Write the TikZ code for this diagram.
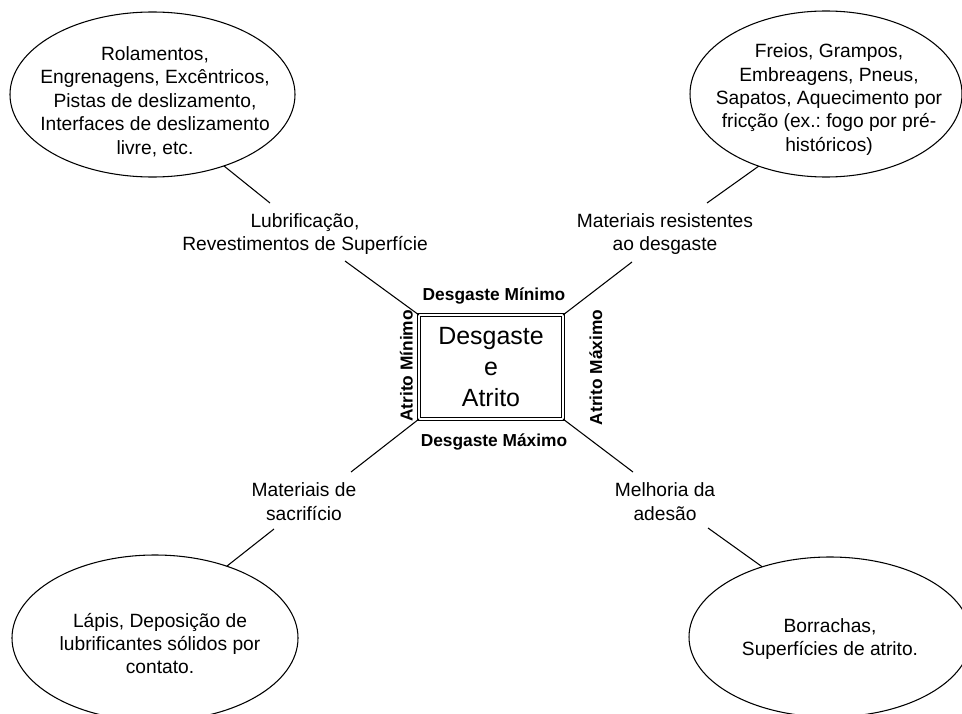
\documentclass[tikz,border=0pt]{standalone}
\usepackage{fontspec}
\setmainfont{Liberation Sans}
\usetikzlibrary{shapes.geometric}
\frenchspacing
\begin{document}
\begin{tikzpicture}[x=0.75pt,y=-0.75pt,
  every node/.style={inner sep=0pt, outer sep=0pt},
  bubble/.style={draw, line width=0.8pt, ellipse},
  bodytext/.style={align=center, font=\fontsize{14.4}{17.6}\selectfont},
  sidetext/.style={font=\fontsize{13}{15}\selectfont\bfseries, anchor=base},
  link/.style={line width=0.8pt},
  core/.style={draw, double, line width=0.9pt, double distance=1.3pt,
    align=center, font=\fontsize{18.7}{23}\selectfont}]
\useasboundingbox (0,0) rectangle (962,713);
\clip (0,0) rectangle (962,713);

% central box
\node[core, minimum width=144*0.75pt, minimum height=104*0.75pt] (core) at (491,367)
  {Desgaste\\e\\Atrito};

% labels around the box
\node[sidetext] (wmin) at (494,300) {Desgaste Mínimo};
\node[sidetext] (wmax) at (494,446) {Desgaste Máximo};
\node[sidetext, rotate=90] (fmin) at (412.5,366) {Atrito Mínimo};
\node[sidetext, rotate=90] (fmax) at (602,367.5) {Atrito Máximo};

% strategy labels
\node[bodytext] (lub) at (305,234) {Lubrificação,\\Revestimentos de Superfície};
\node[bodytext] (res) at (665,234) {Materiais resistentes\\ao desgaste};
\node[bodytext] (sac) at (304,501.5) {Materiais de\\sacrifício};
\node[bodytext] (ade) at (665,501.5) {Melhoria da\\adesão};

% application bubbles
\node[bubble, minimum width=285*0.75pt, minimum height=165*0.75pt] (tl) at (152.5,94.5) {};
\node[bubble, minimum width=272*0.75pt, minimum height=166*0.75pt] (tr) at (826,94) {};
\node[bubble, minimum width=286*0.75pt, minimum height=166*0.75pt] (bl) at (155,638) {};
\node[bubble, minimum width=282*0.75pt, minimum height=160*0.75pt] (br) at (830,637) {};

\node[bodytext] (tltext) at (155,101.5)
  {Rolamentos,\\Engrenagens, Excêntricos,\\Pistas de deslizamento,\\Interfaces de deslizamento\\livre, etc.};
\node[bodytext] (trtext) at (829,99.5)
  {Freios, Grampos,\\Embreagens, Pneus,\\Sapatos, Aquecimento por\\fricção (ex.: fogo por pré-\\históricos)};
\node[bodytext] (bltext) at (160,643.5)
  {Lápis, Deposição de\\lubrificantes sólidos por\\contato.};
\node[bodytext] (brtext) at (830,639)
  {Borrachas,\\Superfícies de atrito.};

% connector ends next to the strategy labels
\coordinate (lubA) at (270,203);
\coordinate (lubB) at (345,261);
\coordinate (resA) at (707,203);
\coordinate (resB) at (632,262);
\coordinate (sacA) at (351,472);
\coordinate (sacB) at (274,529);
\coordinate (adeA) at (633,472);
\coordinate (adeB) at (708,528);

% connectors
\draw[link] (tl.-45) -- (lubA);
\draw[link] (lubB) -- (core.north west);
\draw[link] (tr.-133) -- (resA);
\draw[link] (resB) -- (core.north east);
\draw[link] (core.south west) -- (sacA);
\draw[link] (sacB) -- (bl.45);
\draw[link] (core.south east) -- (adeA);
\draw[link] (adeB) -- (br.134);
\end{tikzpicture}
\end{document}
